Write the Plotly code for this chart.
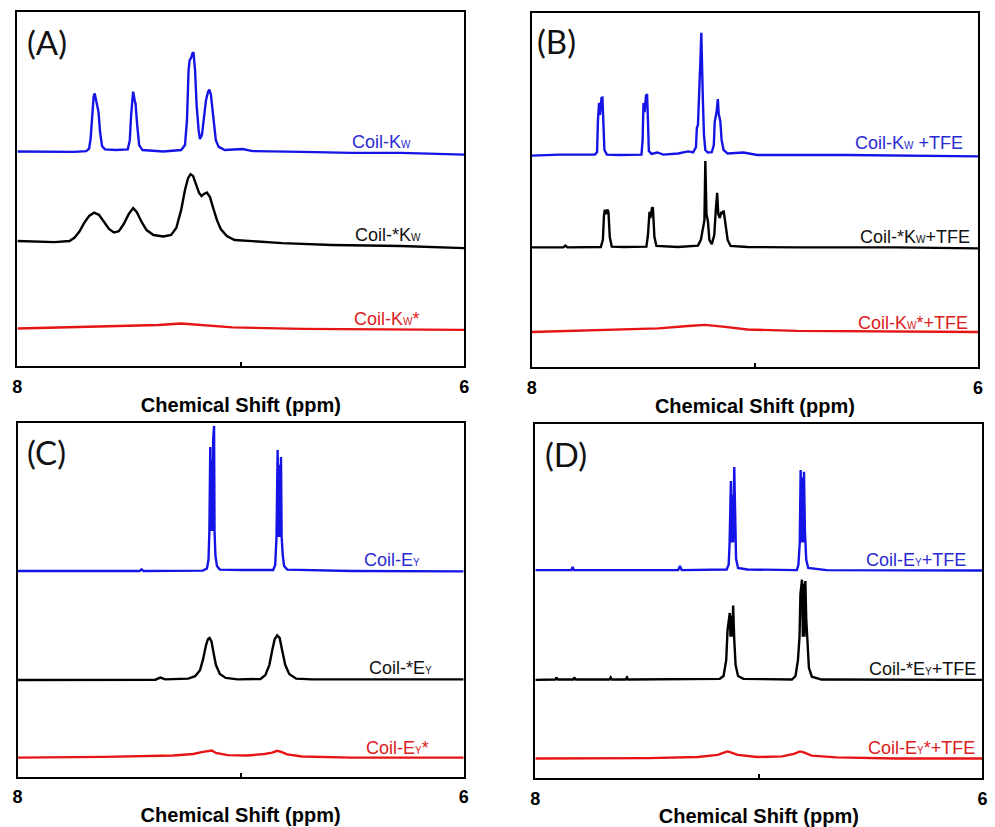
import plotly.graph_objects as go

# ---------------- (A) Coil-Kw series ----------------
a_blue_ppm = [8.0, 7.745, 7.692, 7.679, 7.672, 7.666, 7.659, 7.654, 7.648, 7.642, 7.637, 7.630, 7.621, 7.608,
              7.559, 7.506, 7.497, 7.491, 7.485, 7.482, 7.475, 7.471, 7.464, 7.455, 7.440, 7.347, 7.267, 7.250,
              7.241, 7.234, 7.229, 7.223, 7.216, 7.212, 7.205, 7.198, 7.189, 7.183, 7.174, 7.165, 7.156, 7.147,
              7.141, 7.134, 7.127, 7.121, 7.112, 7.099, 7.072, 6.992, 6.948, 6.726, 6.505, 6.283, 6.0]
a_blue_int = [60.6, 60.5, 60.7, 61.4, 64.4, 70.9, 76.0, 77.0, 75.1, 73.4, 71.8, 66.1, 62.1, 61.2,
              61.0, 61.2, 63.8, 70.9, 76.3, 77.5, 75.1, 74.0, 68.1, 62.4, 61.0, 60.6, 61.0, 62.4,
              69.5, 83.6, 86.4, 87.0, 88.4, 88.6, 83.6, 73.7, 66.7, 64.1, 65.3, 70.1, 75.1, 77.4,
              78.1, 76.6, 72.9, 68.1, 63.8, 61.9, 61.0, 61.3, 60.7, 60.5, 60.2, 60.2, 59.7]

a_black_ppm = [8.0, 7.834, 7.767, 7.745, 7.723, 7.701, 7.679, 7.657, 7.635, 7.612, 7.590, 7.568, 7.546, 7.524,
               7.502, 7.482, 7.466, 7.444, 7.422, 7.391, 7.347, 7.312, 7.289, 7.267, 7.250, 7.236, 7.225, 7.214,
               7.200, 7.187, 7.176, 7.165, 7.152, 7.138, 7.125, 7.107, 7.090, 7.063, 7.028, 6.970, 6.815, 6.593,
               6.283, 6.0]
a_black_int = [35.3, 35.0, 35.3, 36.2, 37.9, 40.4, 42.4, 43.3, 42.7, 40.7, 38.7, 37.7, 38.1, 40.1,
               42.9, 44.6, 43.5, 40.7, 38.4, 37.0, 36.6, 37.0, 39.0, 44.1, 49.7, 53.1, 54.2, 53.7,
               51.4, 48.9, 48.0, 48.6, 49.0, 47.7, 44.9, 41.2, 38.7, 36.7, 35.6, 35.3, 34.7, 34.2,
               33.9, 33.3]

a_red_ppm = [8.0, 7.790, 7.612, 7.480, 7.369, 7.267, 7.169, 7.037, 6.726, 6.283, 6.0]
a_red_int = [10.6, 10.9, 11.3, 11.4, 11.6, 12.0, 11.6, 10.9, 10.5, 10.3, 10.2]

# ---------------- (B) Coil-Kw + TFE series ----------------
b_blue_ppm = [8.0, 7.876, 7.716, 7.707, 7.703, 7.698, 7.694, 7.687, 7.683, 7.678, 7.674, 7.663, 7.610,
              7.508, 7.503, 7.499, 7.494, 7.488, 7.483, 7.479, 7.475, 7.463, 7.437, 7.410, 7.344, 7.299,
              7.277, 7.264, 7.260, 7.255, 7.250, 7.244, 7.240, 7.237, 7.233, 7.228, 7.222, 7.211, 7.193,
              7.184, 7.180, 7.175, 7.171, 7.166, 7.162, 7.155, 7.149, 7.140, 7.122, 7.051, 6.989, 6.590, 6.0]
b_blue_int = [59.7, 60.0, 60.0, 60.7, 69.8, 74.6, 71.2, 76.0, 76.1, 68.4, 61.3, 60.0, 59.9,
              60.0, 64.1, 74.6, 72.0, 76.6, 77.1, 69.5, 61.0, 60.2, 60.6, 60.0, 60.3, 60.9,
              60.6, 62.1, 67.5, 68.4, 75.4, 86.7, 94.4, 81.1, 75.4, 65.5, 61.3, 60.6, 60.7,
              62.7, 69.2, 70.9, 72.3, 75.7, 71.5, 69.5, 64.1, 61.3, 60.3, 60.6, 59.9, 59.9, 59.5]

b_black_ppm = [8.0, 7.858, 7.849, 7.840, 7.690, 7.681, 7.676, 7.672, 7.667, 7.661, 7.656, 7.650, 7.641,
               7.588, 7.486, 7.479, 7.472, 7.468, 7.461, 7.457, 7.450, 7.441, 7.344, 7.255, 7.242, 7.233,
               7.226, 7.222, 7.217, 7.210, 7.204, 7.193, 7.182, 7.175, 7.169, 7.164, 7.157, 7.151, 7.144,
               7.140, 7.135, 7.129, 7.122, 7.109, 7.033, 6.812, 6.368, 6.0]
b_black_int = [33.8, 33.8, 34.3, 33.8, 33.9, 35.9, 42.9, 44.4, 43.2, 44.5, 43.8, 36.7, 34.0,
               33.9, 34.0, 37.3, 43.8, 42.1, 44.9, 45.1, 36.7, 34.2, 33.9, 34.3, 35.9, 39.0,
               41.5, 58.2, 43.2, 41.0, 35.9, 34.7, 37.3, 44.4, 49.2, 43.2, 42.1, 43.8, 43.2,
               44.2, 42.1, 39.3, 35.9, 34.2, 33.9, 33.8, 33.8, 33.5]

b_red_ppm = [8.0, 7.831, 7.610, 7.432, 7.299, 7.224, 7.144, 7.033, 6.812, 6.0]
b_red_int = [9.9, 10.2, 10.6, 10.9, 11.6, 11.9, 11.4, 10.6, 10.2, 9.9]

# ---------------- (C) Coil-EY series ----------------
c_blue_ppm = [8.0, 7.613, 7.453, 7.444, 7.435, 7.169, 7.151, 7.144, 7.140, 7.136, 7.133, 7.130, 7.126,
              7.123, 7.119, 7.117, 7.113, 7.106, 7.093, 6.991, 6.854, 6.845, 6.839, 6.834, 6.830, 6.827,
              6.823, 6.819, 6.816, 6.811, 6.805, 6.791, 6.503, 6.0]
c_blue_int = [58.1, 58.1, 58.1, 58.6, 58.1, 58.2, 58.8, 61.2, 69.4, 93.1, 69.4, 89.5, 69.4,
              95.1, 99.1, 69.4, 62.6, 59.5, 58.5, 58.4, 58.4, 59.8, 67.7, 92.3, 67.7, 88.1,
              67.7, 90.3, 67.7, 62.6, 59.5, 58.5, 58.1, 58.0]

c_black_ppm = [8.0, 7.701, 7.382, 7.360, 7.338, 7.235, 7.204, 7.182, 7.169, 7.155, 7.146, 7.139, 7.131,
               7.122, 7.111, 7.093, 7.067, 7.013, 6.911, 6.889, 6.871, 6.858, 6.847, 6.836, 6.825, 6.814,
               6.800, 6.782, 6.751, 6.680, 6.281, 6.0]
c_black_int = [27.3, 27.3, 27.4, 28.0, 27.5, 27.7, 28.4, 30.1, 33.0, 37.2, 38.9, 39.2, 38.3,
               35.2, 31.6, 29.0, 27.9, 27.5, 27.6, 28.7, 31.6, 35.8, 38.9, 39.9, 39.2, 35.8,
               31.6, 29.0, 27.7, 27.5, 27.5, 27.5]

c_red_ppm = [8.0, 7.613, 7.302, 7.213, 7.169, 7.142, 7.129, 7.111, 7.058, 6.969, 6.893, 6.858, 6.836,
             6.818, 6.791, 6.725, 6.503, 6.0]
c_red_int = [5.4, 5.6, 6.0, 6.4, 7.0, 7.4, 7.4, 6.7, 6.1, 6.0, 6.4, 6.8, 7.3,
             7.0, 6.3, 5.7, 5.4, 5.4]

# ---------------- (D) Coil-EY + TFE series ----------------
d_blue_ppm = [8.0, 7.839, 7.833, 7.828, 7.361, 7.353, 7.345, 7.144, 7.135, 7.131, 7.125, 7.122, 7.118,
              7.115, 7.110, 7.106, 7.102, 7.093, 7.051, 6.830, 6.823, 6.817, 6.813, 6.809, 6.806, 6.802,
              6.798, 6.794, 6.788, 6.779, 6.697, 6.0]
d_blue_int = [58.8, 58.8, 59.7, 58.8, 58.8, 60.0, 58.8, 59.0, 60.3, 66.1, 84.0, 66.6, 80.0,
              66.6, 87.9, 72.3, 62.0, 59.4, 59.0, 58.8, 60.3, 66.6, 87.1, 66.6, 85.0, 66.6,
              86.6, 70.0, 61.7, 59.4, 58.8, 58.7]

d_black_ppm = [8.0, 7.910, 7.906, 7.899, 7.830, 7.826, 7.819, 7.669, 7.663, 7.658, 7.596, 7.590, 7.585,
               7.175, 7.158, 7.146, 7.140, 7.135, 7.130, 7.127, 7.122, 7.119, 7.115, 7.110, 7.104, 7.093,
               7.069, 6.852, 6.836, 6.825, 6.818, 6.814, 6.807, 6.803, 6.800, 6.796, 6.792, 6.788, 6.783,
               6.776, 6.763, 6.719, 6.0]
d_black_int = [27.8, 27.9, 28.5, 27.9, 27.9, 28.5, 27.9, 27.9, 28.5, 27.9, 27.9, 28.5, 27.9,
               28.1, 28.9, 33.4, 41.9, 45.0, 46.7, 40.0, 46.0, 40.0, 48.8, 39.1, 32.0, 28.9,
               28.1, 27.9, 28.9, 33.4, 40.0, 52.0, 56.1, 40.0, 55.0, 40.0, 55.7, 45.0, 37.0,
               31.2, 28.7, 27.9, 27.8]

d_red_ppm = [8.0, 7.494, 7.273, 7.184, 7.153, 7.140, 7.126, 7.095, 7.007, 6.896, 6.843, 6.816, 6.799,
             6.764, 6.653, 6.387, 6.0]
d_red_int = [5.6, 5.7, 6.0, 6.6, 7.3, 7.6, 7.3, 6.6, 6.0, 6.2, 6.9, 7.6, 7.3,
             6.4, 5.9, 5.6, 5.6]

# Trace labels: (text, ppm of right edge, intensity of text centre)
sub_w = "<span style='font-size:10px'>W</span>"
sub_y = "<span style='font-size:10px'>Y</span>"
a_labels = [("Coil-K" + sub_w, 6.230, 63.3), ("Coil-*K" + sub_w, 6.186, 37.0), ("Coil-K" + sub_w + "*", 6.195, 13.4)]
b_labels = [("Coil-K" + sub_w + " +TFE", 6.058, 63.4), ("Coil-*K" + sub_w + "+TFE", 6.028, 36.7),
            ("Coil-K" + sub_w + "*+TFE", 6.035, 12.5)]
c_labels = [("Coil-E" + sub_y, 6.185, 61.2), ("Coil-*E" + sub_y, 6.133, 30.6), ("Coil-E" + sub_y + "*", 6.148, 8.0)]
d_labels = [("Coil-E" + sub_y + "+TFE", 6.065, 61.7), ("Coil-*E" + sub_y + "+TFE", 6.018, 30.8),
            ("Coil-E" + sub_y + "*+TFE", 6.025, 8.5)]

panel_names = ["(A)", "(B)", "(C)", "(D)"]
x_ticks = [8, 7, 6]
x_tick_text = ["8", "", "6"]

LINE_BLUE = "#1414e6"
LINE_BLACK = "#000000"
LINE_RED = "#e61414"
TEXT_BLUE = "#2b2bd2"
TEXT_BLACK = "#111111"
TEXT_RED = "#dc2020"

panels = [
    dict(series=[(a_blue_ppm, a_blue_int), (a_black_ppm, a_black_int), (a_red_ppm, a_red_int)], labels=a_labels,
         dom_x=[12.5 / 995, 464 / 995], dom_y=[1 - 366 / 827, 1 - 12 / 827], tag_x=0.018, tag_y=0.915),
    dict(series=[(b_blue_ppm, b_blue_int), (b_black_ppm, b_black_int), (b_red_ppm, b_red_int)], labels=b_labels,
         dom_x=[532 / 995, 983 / 995], dom_y=[1 - 367 / 827, 1 - 13 / 827], tag_x=0.008, tag_y=0.921),
    dict(series=[(c_blue_ppm, c_blue_int), (c_black_ppm, c_black_int), (c_red_ppm, c_red_int)], labels=c_labels,
         dom_x=[12.7 / 995, 463.3 / 995], dom_y=[1 - 776.7 / 827, 1 - 422.7 / 827], tag_x=0.017, tag_y=0.916),
    dict(series=[(d_blue_ppm, d_blue_int), (d_black_ppm, d_black_int), (d_red_ppm, d_red_int)], labels=d_labels,
         dom_x=[535.7 / 995, 987.3 / 995], dom_y=[1 - 778.3 / 827, 1 - 424.3 / 827], tag_x=0.017, tag_y=0.916),
]

line_colors = [LINE_BLUE, LINE_BLACK, LINE_RED]
text_colors = [TEXT_BLUE, TEXT_BLACK, TEXT_RED]

fig = go.Figure()
annotations = []
for i, p in enumerate(panels):
    n = "" if i == 0 else str(i + 1)
    xa, ya = "x" + n, "y" + n
    for (xs, ys), col in zip(p["series"], line_colors):
        fig.add_trace(go.Scatter(x=xs, y=ys, mode="lines", xaxis=xa, yaxis=ya,
                                 line=dict(color=col, width=2.4), showlegend=False, hoverinfo="skip"))
    for (txt, xr, yc), col in zip(p["labels"], text_colors):
        annotations.append(dict(text=txt, x=xr, y=yc, xref=xa, yref=ya, xanchor="right", yanchor="middle",
                                showarrow=False, font=dict(family="Liberation Sans, Arial", size=18, color=col)))
    annotations.append(dict(text=panel_names[i], x=p["tag_x"], y=p["tag_y"], xref=xa + " domain",
                            yref=ya + " domain", xanchor="left", yanchor="middle", showarrow=False,
                            font=dict(family="Lato, Open Sans", size=33, color="#111111")))
    fig.layout["xaxis" + n] = dict(
        domain=p["dom_x"], anchor=ya, range=[8, 6], tickvals=x_ticks, ticktext=x_tick_text,
        ticks="inside", ticklen=4, tickwidth=1.5, tickcolor="black",
        showline=True, linecolor="black", linewidth=2, mirror=True, showgrid=False, zeroline=False,
        tickfont=dict(family="Liberation Sans, Arial", size=18, color="black", weight="bold"),
        ticklabelstandoff=3,
        title=dict(text="Chemical Shift (ppm)", standoff=2,
                   font=dict(family="Liberation Sans, Arial", size=20, color="black", weight="bold")),
    )
    fig.layout["yaxis" + n] = dict(
        domain=p["dom_y"], anchor=xa, range=[0, 100], showticklabels=False, ticks="",
        showline=True, linecolor="black", linewidth=2, mirror=True, showgrid=False, zeroline=False,
    )

fig.update_layout(width=995, height=827, margin=dict(l=0, r=0, t=0, b=0),
                  paper_bgcolor="white", plot_bgcolor="white", annotations=annotations)
fig.write_html("out.html")
